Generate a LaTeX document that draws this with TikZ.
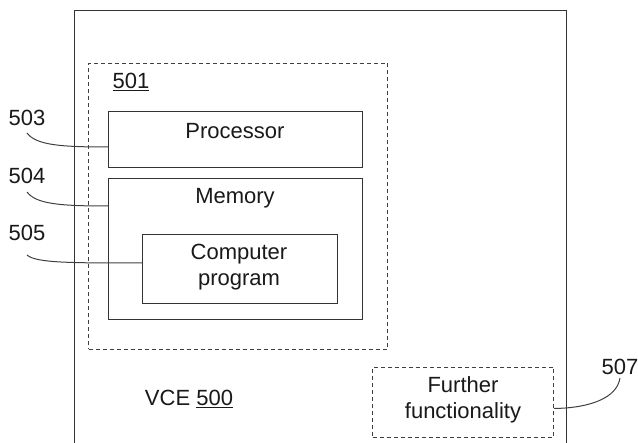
\documentclass[tikz,border=0pt]{standalone}
\usepackage{fontspec}
\setmainfont{Liberation Sans}
\begin{document}
\begin{tikzpicture}[x=1pt,y=-1pt,
  every node/.style={font=\fontsize{22}{26}\selectfont, text=black!90, inner sep=0pt},
  solidbox/.style={draw=black!80, line width=1pt},
  dashbox/.style={draw=black!75, line width=1pt, dash pattern=on 4pt off 3pt},
  leader/.style={draw=black!75, line width=1pt}]
\useasboundingbox (0,0) rectangle (638,443);
% outer VCE box (cut at bottom)
\node[solidbox, anchor=north west, minimum width=492pt, minimum height=460pt] (vce) at (74,10) {};
% dashed 501 box
\node[dashbox, anchor=north west, minimum width=299pt, minimum height=286pt] (b501) at (88,63) {};
\node[anchor=center] (l501) at (131,82) {\underline{501}};
% processor
\node[solidbox, anchor=north west, minimum width=254pt, minimum height=56pt] (proc) at (108,111) {};
\node (proct) at (235,131) {Processor};
% memory
\node[solidbox, anchor=north west, minimum width=254pt, minimum height=141pt] (mem) at (108,178) {};
\node (memt) at (235,198) {Memory};
% computer program
\node[solidbox, anchor=north west, minimum width=195pt, minimum height=69pt] (prog) at (142,234) {};
\node[align=center] (progt) at (239,267) {Computer\\program};
% VCE label
\node (vcet) at (189,399) {VCE \underline{500}};
% further functionality
\node[dashbox, anchor=north west, minimum width=181pt, minimum height=70pt] (fur) at (372,367) {};
\node[align=center] (furt) at (463,400) {Further\\functionality};
% reference labels
\node (l503) at (27,118) {503};
\node (l504) at (27,176) {504};
\node (l505) at (27,233) {505};
\node (l507) at (620,367) {507};
\coordinate (c503) at (27,133);
\coordinate (c504) at (27,192);
\coordinate (c505) at (27,255);
\coordinate (c507) at (620,378);
% leaders
\draw[leader] (c503) .. controls (36,145) and (60,147) .. ([yshift=-36pt]proc.north west);
\draw[leader] (c504) .. controls (36,204) and (60,206) .. ([yshift=-28pt]mem.north west);
\draw[leader] (c505) .. controls (36,263) and (70,263) .. ([yshift=-29pt]prog.north west);
\draw[leader] (c507) .. controls (617,398) and (590,408) .. ([yshift=-6pt]fur.east);
\end{tikzpicture}
\end{document}
